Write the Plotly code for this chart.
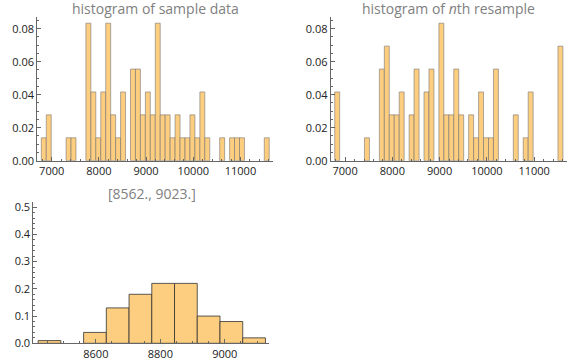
import plotly.graph_objects as go

# ---- data ----
n_sample = 72
sample_bin_start = 6780
sample_bin_width = 105
sample_counts = [1, 2, 0, 0, 0, 1, 1, 0, 0, 6, 3, 1, 3, 6, 2, 1, 3, 0, 4, 4, 2, 3, 2, 6,
                 2, 2, 1, 2, 1, 1, 2, 1, 3, 1, 0, 0, 1, 0, 1, 1, 1, 0, 0, 0, 0, 1]
resample_counts = [3, 0, 0, 0, 0, 0, 1, 0, 0, 4, 5, 2, 2, 3, 0, 2, 4, 0, 3, 4, 0, 6, 2, 2,
                   4, 2, 0, 2, 1, 3, 1, 1, 4, 0, 0, 0, 2, 0, 1, 3, 0, 0, 0, 0, 0, 5]

boot_bin_start = 8421
boot_bin_width = 70.5
boot_probs = [0.01, 0.0, 0.04, 0.13, 0.18, 0.22, 0.22, 0.10, 0.08, 0.02]

titles = ["histogram of sample data", "histogram of <i>n</i>th resample", "[8562., 9023.]"]
top_xticks = [7000, 8000, 9000, 10000, 11000]
top_yticks = [0.00, 0.02, 0.04, 0.06, 0.08]
boot_xticks = [8600, 8800, 9000]
boot_yticks = [0.0, 0.1, 0.2, 0.3, 0.4, 0.5]

# ---- styles ----
FILL = "rgb(253,205,128)"
EDGE_TOP = "rgba(110,110,110,0.55)"
EDGE_BOT = "rgba(50,50,50,0.8)"
FONT = "Open Sans"
W, H = 580, 362


def bars(counts, start, width, total):
    xs, ys = [], []
    for k, c in enumerate(counts):
        if c > 0:
            xs.append(start + width * (k + 0.5))
            ys.append(c / total)
    return xs, ys


fig = go.Figure()

x1, y1 = bars(sample_counts, sample_bin_start, sample_bin_width, n_sample)
x2, y2 = bars(resample_counts, sample_bin_start, sample_bin_width, n_sample)
x3 = [boot_bin_start + boot_bin_width * (k + 0.5) for k, p in enumerate(boot_probs) if p > 0]
y3 = [p for p in boot_probs if p > 0]

fig.add_trace(go.Bar(x=x1, y=y1, width=sample_bin_width, marker=dict(color=FILL, line=dict(color=EDGE_TOP, width=1)),
                     xaxis="x", yaxis="y", hoverinfo="skip"))
fig.add_trace(go.Bar(x=x2, y=y2, width=sample_bin_width, marker=dict(color=FILL, line=dict(color=EDGE_TOP, width=1)),
                     xaxis="x2", yaxis="y2", hoverinfo="skip"))
fig.add_trace(go.Bar(x=x3, y=y3, width=boot_bin_width, marker=dict(color=FILL, line=dict(color=EDGE_BOT, width=1)),
                     xaxis="x3", yaxis="y3", hoverinfo="skip"))


def px_x(p):
    return p / W


def px_y(p):
    return 1 - p / H


axis_common = dict(showgrid=False, zeroline=False, showline=True, linecolor="#666", linewidth=1,
                   ticks="inside", ticklen=4, tickcolor="#666", tickwidth=1, automargin=False,
                   tickfont=dict(family=FONT, size=11, color="#222"), fixedrange=True)

top_x = dict(axis_common, range=[6695, 11690], tickvals=top_xticks, tickformat="d",
             minor=dict(ticks="inside", ticklen=2, tickcolor="#666", dtick=200, tick0=7000))
top_y = dict(axis_common, range=[0, 0.0871], tickvals=top_yticks, tickformat=".2f",
             minor=dict(ticks="inside", ticklen=2, tickcolor="#666", dtick=0.005, tick0=0))

fig.update_layout(
    template="none",
    width=W, height=H, margin=dict(l=0, r=0, t=0, b=0, pad=0),
    paper_bgcolor="white", plot_bgcolor="white", showlegend=False, bargap=0, barmode="overlay",
    xaxis=dict(top_x, domain=[px_x(37.3), px_x(273)], anchor="y"),
    yaxis=dict(top_y, domain=[px_y(160.7), px_y(17)], anchor="x"),
    xaxis2=dict(top_x, domain=[px_x(330.7), px_x(566.7)], anchor="y2"),
    yaxis2=dict(top_y, domain=[px_y(160.7), px_y(17)], anchor="x2"),
    xaxis3=dict(axis_common, range=[8406, 9137], tickvals=boot_xticks, tickformat="d", anchor="y3",
                domain=[px_x(33.3), px_x(269)],
                minor=dict(ticks="inside", ticklen=2, tickcolor="#666", dtick=50, tick0=8600)),
    yaxis3=dict(axis_common, range=[0, 0.52], tickvals=boot_yticks, tickformat=".1f", anchor="x3",
                domain=[px_y(343.3), px_y(201.7)],
                minor=dict(ticks="inside", ticklen=2, tickcolor="#666", dtick=0.02, tick0=0)),
)

title_pos = [(155, 9), (448, 9), (152, 193)]
for t, (cx, cy) in zip(titles, title_pos):
    fig.add_annotation(text=t, x=px_x(cx), y=px_y(cy), xref="paper", yref="paper",
                       showarrow=False, xanchor="center", yanchor="middle",
                       font=dict(family=FONT, size=14, color="#808080"))

fig.write_html("out.html", config={"displayModeBar": False, "staticPlot": True},
               post_script="document.body.style.margin='0px';document.body.style.overflow='hidden';")
